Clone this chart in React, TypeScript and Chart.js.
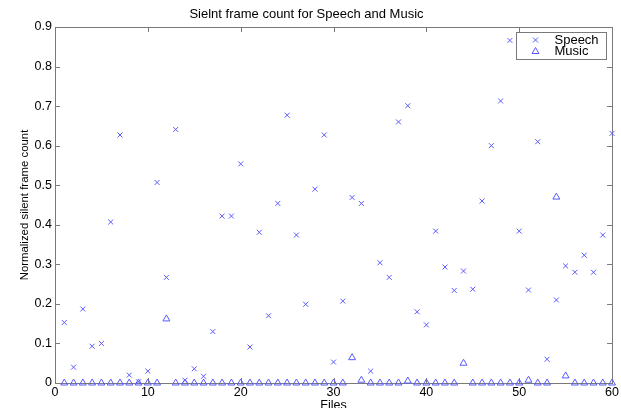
import React, { useEffect, useRef } from "react";
import { Chart, registerables } from "chart.js";

Chart.register(...registerables);

const files = [
  1, 2, 3, 4, 5, 6, 7, 8, 9, 10, 11, 12, 13, 14, 15, 16, 17, 18, 19, 20,
  21, 22, 23, 24, 25, 26, 27, 28, 29, 30, 31, 32, 33, 34, 35, 36, 37, 38, 39, 40,
  41, 42, 43, 44, 45, 46, 47, 48, 49, 50, 51, 52, 53, 54, 55, 56, 57, 58, 59, 60,
];

const speech = [
  0.153, 0.04, 0.187, 0.093, 0.1, 0.407, 0.627, 0.02, 0.003, 0.03,
  0.507, 0.267, 0.641, 0.007, 0.036, 0.017, 0.13, 0.422, 0.422, 0.554,
  0.091, 0.381, 0.17, 0.454, 0.677, 0.374, 0.199, 0.49, 0.627, 0.053,
  0.207, 0.469, 0.454, 0.03, 0.304, 0.267, 0.66, 0.701, 0.18, 0.147,
  0.384, 0.293, 0.234, 0.283, 0.237, 0.46, 0.6, 0.713, 0.866, 0.384,
  0.235, 0.61, 0.06, 0.21, 0.296, 0.28, 0.323, 0.28, 0.374, 0.631,
];

const music = [
  0, 0, 0, 0, 0, 0, 0, 0, 0, 0,
  0, 0.162, 0, 0, 0, 0, 0, 0, 0, 0,
  0, 0, 0, 0, 0, 0, 0, 0, 0, 0,
  0, 0.064, 0.007, 0, 0, 0, 0, 0.005, 0, 0,
  0, 0, 0, 0.05, 0, 0, 0, 0, 0, 0,
  0.007, 0, 0, 0.47, 0.018, 0, 0, 0, 0, 0,
];

const seriesLabels = ["Speech", "Music"];
const titleText = "Sielnt frame count for Speech and Music";
const xTitle = "Files";
const yTitle = "Normalized silent frame count";

const FONT = "'Liberation Sans', Arial, sans-serif";
const MARK = "#5a5aff";
const AXIS = "#7a7a7a";

const framePlugin = {
  id: "frame",
  beforeDatasetsDraw(chart: any) {
    const { ctx, chartArea: a, scales } = chart;
    ctx.save();
    ctx.strokeStyle = AXIS;
    ctx.lineWidth = 1;
    ctx.strokeRect(Math.round(a.left) + 0.5, Math.round(a.top) + 0.5, Math.round(a.right - a.left), Math.round(a.bottom - a.top));
    const tl = 5;
    ctx.beginPath();
    for (const t of scales.x.ticks) {
      const px = Math.round(scales.x.getPixelForValue(t.value)) + 0.5;
      ctx.moveTo(px, a.bottom);
      ctx.lineTo(px, a.bottom - tl);
      ctx.moveTo(px, a.top);
      ctx.lineTo(px, a.top + tl);
    }
    for (const t of scales.y.ticks) {
      const py = Math.round(scales.y.getPixelForValue(t.value)) + 0.5;
      ctx.moveTo(a.left, py);
      ctx.lineTo(a.left + tl, py);
      ctx.moveTo(a.right, py);
      ctx.lineTo(a.right - tl, py);
    }
    ctx.stroke();
    ctx.restore();
  },
};

const legendPlugin = {
  id: "boxLegend",
  afterDraw(chart: any) {
    const { ctx, chartArea: a } = chart;
    const w = 90;
    const h = 27;
    const x0 = Math.round(a.right - 96) + 0.5;
    const y0 = Math.round(a.top + 5) + 0.5;
    ctx.save();
    ctx.fillStyle = "#ffffff";
    ctx.fillRect(x0, y0, w, h);
    ctx.strokeStyle = AXIS;
    ctx.lineWidth = 1;
    ctx.strokeRect(x0, y0, w, h);
    const mx = x0 + 19;
    const rows = [y0 + 7.5, y0 + 19];
    ctx.strokeStyle = MARK;
    ctx.beginPath();
    const c = 2.5;
    ctx.moveTo(mx - c, rows[0] - c);
    ctx.lineTo(mx + c, rows[0] + c);
    ctx.moveTo(mx + c, rows[0] - c);
    ctx.lineTo(mx - c, rows[0] + c);
    ctx.stroke();
    ctx.beginPath();
    const r = 4;
    ctx.moveTo(mx, rows[1] - r);
    ctx.lineTo(mx + 0.866 * r, rows[1] + r / 2);
    ctx.lineTo(mx - 0.866 * r, rows[1] + r / 2);
    ctx.closePath();
    ctx.stroke();
    ctx.fillStyle = "#000";
    ctx.font = `13px ${FONT}`;
    ctx.textBaseline = "middle";
    ctx.textAlign = "left";
    chart.data.datasets.forEach((ds: any, i: number) => {
      ctx.fillText(ds.label, x0 + 38, rows[i]);
    });
    ctx.restore();
  },
};

export default function App() {
  const ref = useRef<HTMLCanvasElement | null>(null);
  useEffect(() => {
    document.body.style.margin = "0";
    Chart.defaults.font.family = FONT;
    const chart = new Chart(ref.current as HTMLCanvasElement, {
      type: "scatter",
      data: {
        datasets: [
          {
            label: seriesLabels[0],
            data: files.map((f, i) => ({ x: f, y: speech[i] })),
            pointStyle: "crossRot",
            pointRadius: 3.5,
            borderColor: MARK,
            backgroundColor: MARK,
            borderWidth: 1,
            clip: false as any,
          },
          {
            label: seriesLabels[1],
            data: files.map((f, i) => ({ x: f, y: music[i] })),
            pointStyle: "triangle",
            pointRadius: 4,
            borderColor: MARK,
            backgroundColor: "rgba(0,0,0,0)",
            borderWidth: 1,
            clip: false as any,
          },
        ],
      },
      options: {
        responsive: false,
        animation: false,
        layout: { padding: { left: 0, right: 8, top: 0, bottom: 0 } },
        plugins: {
          legend: { display: false },
          tooltip: { enabled: false },
          title: {
            display: true,
            text: titleText,
            color: "#000",
            font: { size: 13, weight: "normal" as any, family: FONT },
            padding: { top: 7, bottom: 4.4 },
          },
        },
        scales: {
          x: {
            type: "linear",
            min: 0,
            max: 60,
            afterFit: (s: any) => {
              s.height = 25;
            },
            grid: { display: false, drawTicks: false },
            border: { display: false },
            ticks: { stepSize: 10, color: "#000", font: { size: 12.5 }, padding: 2, maxRotation: 0 },
            title: {
              display: true,
              text: xTitle,
              color: "#000",
              font: { size: 12.5 },
              padding: { top: 0, bottom: -5 },
            },
          },
          y: {
            type: "linear",
            min: 0,
            max: 0.9,
            afterFit: (s: any) => {
              s.width = 55;
            },
            grid: { display: false, drawTicks: false },
            border: { display: false },
            ticks: {
              stepSize: 0.1,
              color: "#000",
              font: { size: 12.5 },
              padding: 3,
              callback: (v: any) => String(Number(Number(v).toFixed(1))),
            },
            title: {
              display: true,
              text: yTitle,
              color: "#000",
              font: { size: 11.4 },
              padding: { top: 18.5, bottom: 0 },
            },
          },
        },
      },
      plugins: [framePlugin, legendPlugin],
    });
    return () => chart.destroy();
  }, []);
  return (
    <div style={{ width: 621, height: 408 }}>
      <canvas ref={ref} width={621} height={408} style={{ display: "block" }} />
    </div>
  );
}
